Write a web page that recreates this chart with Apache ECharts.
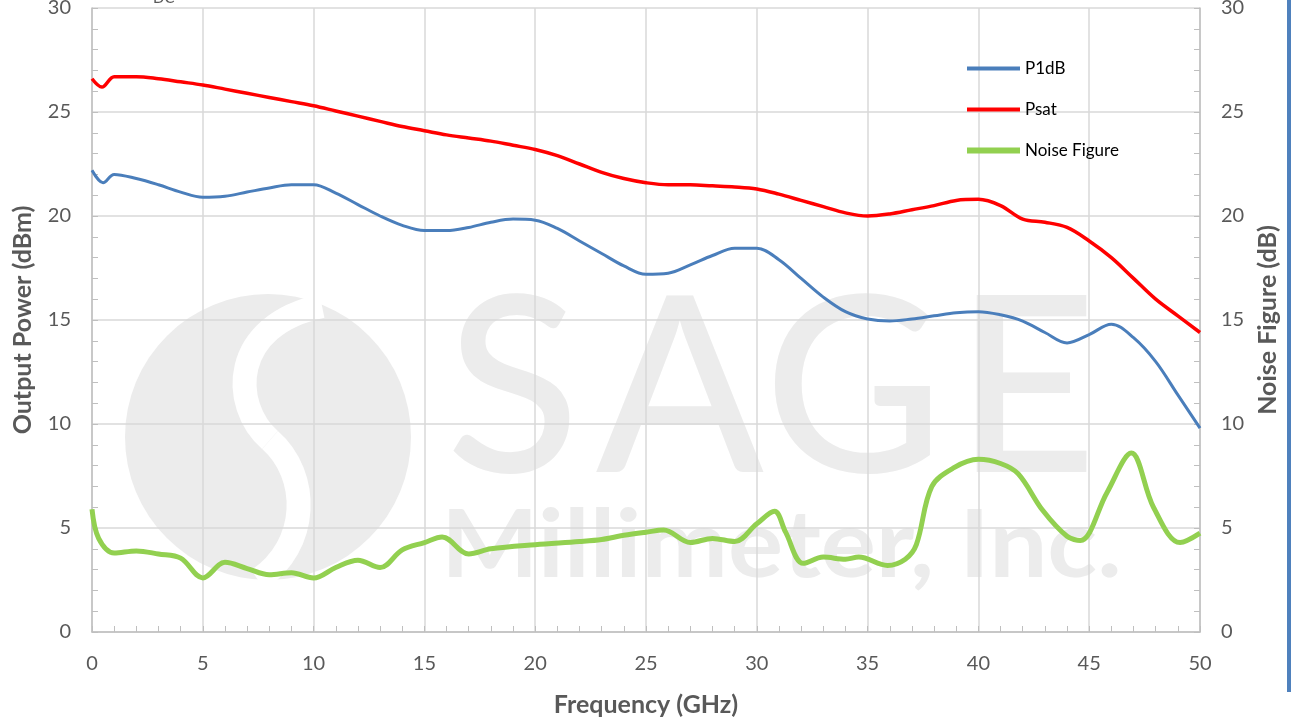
<!DOCTYPE html>
<html>
<head>
<meta charset="utf-8">
<script src="https://cdn.jsdelivr.net/npm/echarts@6/dist/echarts.min.js"></script>
<style>html,body{margin:0;padding:0;background:#fff;}#c{width:1291px;height:717px;}</style>
</head>
<body>
<div id="c"></div>
<script>
const xTicks = [0, 5, 10, 15, 20, 25, 30, 35, 40, 45, 50];
const yTicks = [0, 5, 10, 15, 20, 25, 30];

const p1dbFreq = [0, 0.5, 1, 2, 3, 4, 5, 6, 7, 8, 9, 10, 11, 12, 13, 14, 15, 16, 17, 18, 19, 20, 21, 22, 23, 24, 25, 26, 27, 28, 29, 30, 31, 32, 33, 34, 35, 36, 37, 38, 39, 40, 41, 42, 43, 44, 45, 46, 47, 48, 49, 50];
const p1dbVals = [22.2, 21.6, 22.0, 21.8, 21.5, 21.15, 20.9, 20.95, 21.15, 21.35, 21.5, 21.5, 21.1, 20.55, 20.0, 19.55, 19.3, 19.3, 19.45, 19.7, 19.85, 19.8, 19.4, 18.8, 18.2, 17.6, 17.2, 17.25, 17.65, 18.1, 18.45, 18.45, 17.9, 17.0, 16.1, 15.4, 15.05, 14.95, 15.05, 15.2, 15.35, 15.4, 15.25, 14.95, 14.4, 13.9, 14.3, 14.8, 14.15, 13.0, 11.4, 9.8];

const psatFreq = [0, 0.45, 1, 2, 3, 4, 5, 6, 7, 8, 9, 10, 11, 12, 13, 14, 15, 16, 17, 18, 19, 20, 21, 22, 23, 24, 25, 26, 27, 28, 29, 30, 31, 32, 33, 34, 35, 36, 37, 38, 39, 40, 41, 42, 43, 44, 45, 46, 47, 48, 49, 50];
const psatVals = [26.6, 26.2, 26.7, 26.7, 26.6, 26.45, 26.3, 26.1, 25.9, 25.7, 25.5, 25.3, 25.05, 24.8, 24.55, 24.3, 24.1, 23.9, 23.75, 23.6, 23.4, 23.2, 22.9, 22.5, 22.1, 21.8, 21.6, 21.5, 21.5, 21.45, 21.4, 21.3, 21.05, 20.75, 20.45, 20.15, 20.0, 20.1, 20.3, 20.5, 20.75, 20.8, 20.5, 19.85, 19.7, 19.45, 18.8, 18.0, 17.0, 16.0, 15.2, 14.4];

const nfFreq = [0, 0.3, 1, 2, 3, 4, 5, 6, 7, 8, 9, 10, 11, 12, 13, 14, 15, 15.8, 17, 18, 20, 22, 23, 24, 25, 25.8, 27, 28, 29, 30, 30.8, 31.3, 32.1, 33, 34, 34.6, 35.9, 36.7, 37.2, 37.9, 38.9, 40, 41, 41.8, 42.9, 44, 44.6, 45.8, 46.9, 47.9, 49.1, 50];
const nfVals = [5.9, 4.5, 3.8, 3.9, 3.75, 3.55, 2.6, 3.35, 3.05, 2.75, 2.85, 2.6, 3.1, 3.45, 3.1, 3.95, 4.3, 4.57, 3.75, 4.0, 4.2, 4.35, 4.45, 4.65, 4.8, 4.9, 4.3, 4.5, 4.35, 5.2, 5.8, 4.8, 3.3, 3.6, 3.5, 3.6, 3.2, 3.5, 4.2, 7.0, 7.9, 8.3, 8.1, 7.6, 5.85, 4.6, 4.4, 6.7, 8.6, 6.0, 4.3, 4.75];

const seriesNames = ['P1dB', 'Psat', 'Noise Figure'];
const zip = (a, b) => a.map((v, i) => [v, b[i]]);

const FONT = 'Lato, "Open Sans", sans-serif';
const axisGrey = '#bfbfbf';
const gridGrey = '#d9d9d9';
const labelGrey = '#595959';
const WM = '#ececec';

const chart = echarts.init(document.getElementById('c'), null, {renderer: 'canvas'});

function yAxisCfg(pos, name, gap, showSplit) {
  return {
    type: 'value', position: pos, min: yTicks[0], max: yTicks[yTicks.length - 1], interval: 5,
    name: name, nameLocation: 'middle', nameGap: gap, nameRotate: 90,
    nameTextStyle: {fontFamily: FONT, fontSize: 25, fontWeight: 'bold', color: labelGrey},
    axisLine: {show: true, lineStyle: {color: axisGrey, width: 1.5}},
    axisTick: {show: true, inside: true, length: 6, lineStyle: {color: axisGrey}},
    minorTick: {show: true, splitNumber: 5, length: 6, lineStyle: {color: axisGrey}},
    splitLine: {show: showSplit, lineStyle: {color: gridGrey, width: 1.5}},
    axisLabel: {fontFamily: FONT, fontSize: 20, color: labelGrey, margin: 21}
  };
}

const wmLetter = (ch, x) => ({type: 'text', z: -10, left: x, top: 270,
  style: {text: ch, fontFamily: 'Lato, sans-serif', fontWeight: 500, fontSize: 246, fill: WM}});

chart.setOption({
  animation: false,
  backgroundColor: '#ffffff',
  grid: {left: 92, right: 91, top: 8, bottom: 85, containLabel: false, outerBoundsMode: 'none'},
  xAxis: {
    type: 'value', min: xTicks[0], max: xTicks[xTicks.length - 1], interval: 5,
    name: 'Frequency (GHz)', nameLocation: 'middle', nameGap: 60,
    nameTextStyle: {fontFamily: FONT, fontSize: 25, fontWeight: 'bold', color: labelGrey},
    axisLine: {show: true, lineStyle: {color: axisGrey, width: 1.5}},
    axisTick: {show: true, inside: true, length: 6, lineStyle: {color: axisGrey}},
    minorTick: {show: true, splitNumber: 5, length: 6, lineStyle: {color: axisGrey}},
    splitLine: {show: true, lineStyle: {color: gridGrey, width: 1.5}},
    axisLabel: {fontFamily: FONT, fontSize: 20, color: labelGrey, margin: 22}
  },
  yAxis: [
    yAxisCfg('left', 'Output Power (dBm)', 57, true),
    yAxisCfg('right', 'Noise Figure (dB)', 55, false)
  ],
  legend: {
    orient: 'vertical', left: 962, top: 55, itemWidth: 53, itemHeight: 14, itemGap: 24,
    textStyle: {fontFamily: FONT, fontSize: 17, color: '#000'},
    data: [
      {name: seriesNames[0], icon: 'path://M0,0L53,0L53,4L0,4Z'},
      {name: seriesNames[1], icon: 'path://M0,0L53,0L53,4L0,4Z'},
      {name: seriesNames[2], icon: 'path://M0,0L53,0L53,6L0,6Z'}
    ]
  },
  graphic: [
    {type: 'circle', z: -10, shape: {cx: 268, cy: 437, r: 143}, style: {fill: WM}},
    {type: 'bezierCurve', z: -9, shape: {x1: 322, y1: 306, cpx1: 230, cpy1: 325, cpx2: 230, cpy2: 405, x2: 270, y2: 440}, style: {stroke: '#fff', lineWidth: 24, fill: null}},
    {type: 'bezierCurve', z: -9, shape: {x1: 270, y1: 440, cpx1: 310, cpy1: 475, cpx2: 310, cpy2: 545, x2: 258, y2: 580}, style: {stroke: '#fff', lineWidth: 24, fill: null}},
    wmLetter('S', 446), wmLetter('A', 596), wmLetter('G', 764), wmLetter('E', 955),
    {type: 'text', z: -10, left: 441, top: 500, scaleX: 1.11,
     style: {text: 'Millimeter, Inc.', fontFamily: 'Lato, sans-serif', fontWeight: 'bold', fontSize: 93, fill: WM}},
    {type: 'text', left: 153, top: -9, style: {text: 'DC', fontFamily: FONT, fontSize: 15, fill: labelGrey}},
    {type: 'rect', shape: {x: 1287, y: 0, width: 4, height: 692}, style: {fill: '#4f81bd'}}
  ],
  series: [
    {name: seriesNames[0], type: 'line', yAxisIndex: 0, data: zip(p1dbFreq, p1dbVals), smooth: 0.35, symbol: 'none',
     lineStyle: {color: '#4a7ebb', width: 3}, itemStyle: {color: '#4a7ebb'}},
    {name: seriesNames[1], type: 'line', yAxisIndex: 0, data: zip(psatFreq, psatVals), smooth: 0.35, symbol: 'none',
     lineStyle: {color: '#ff0000', width: 3.5}, itemStyle: {color: '#ff0000'}},
    {name: seriesNames[2], type: 'line', yAxisIndex: 1, data: zip(nfFreq, nfVals), smooth: 0.35, symbol: 'none',
     lineStyle: {color: '#92d050', width: 5}, itemStyle: {color: '#92d050'}}
  ]
});
</script>
</body>
</html>
